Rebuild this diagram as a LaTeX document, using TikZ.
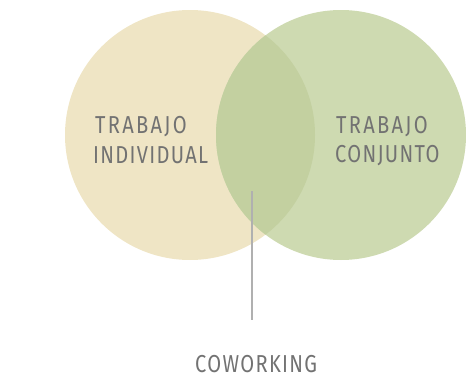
\documentclass[tikz,border=0pt]{standalone}
\usepackage{fontspec}
\newfontfamily\dinfont[LetterSpace=6.5]{Fira Sans}
\newfontfamily\dinwide[LetterSpace=11.5]{Fira Sans}
\definecolor{leftc}{HTML}{EFE5C5}
\definecolor{rightc}{HTML}{CEDAB1}
\definecolor{overc}{HTML}{C3D0A0}
\definecolor{txtc}{HTML}{727272}
\definecolor{linec}{HTML}{B0B0B0}
\tikzset{
  lbl/.style={anchor=base west, inner sep=0pt, text=txtc, font=\dinfont\fontsize{24.5}{30}\selectfont, xscale=0.82, transform shape},
  widelbl/.style={lbl, font=\dinwide\fontsize{24.5}{30}\selectfont},
  blob/.style={circle, minimum size=250pt, inner sep=0pt, draw=none}
}
\begin{document}
\begin{tikzpicture}[x=1pt,y=-1pt]
\useasboundingbox (0,0) rectangle (466,388);
\node[blob, fill=leftc] (lc) at (190,135) {};
\node[blob, fill=rightc] (rc) at (341,135) {};
\begin{scope}
  \clip (190,135) circle (125);
  \fill[overc] (341,135) circle (125);
\end{scope}
\node[widelbl] (t1) at (95,133) {TRABAJO};
\node[lbl] (t2) at (93,163.5) {INDIVIDUAL};
\node[widelbl] (t3) at (336,133) {TRABAJO};
\node[lbl] (t4) at (335,162.5) {CONJUNTO};
\node[lbl] (cw) at (195,372) {COWORKING};
\coordinate (ltop) at (252,191);
\draw[linec, line width=1.2pt] (ltop) -- (ltop |- 0,320);
\end{tikzpicture}
\end{document}
